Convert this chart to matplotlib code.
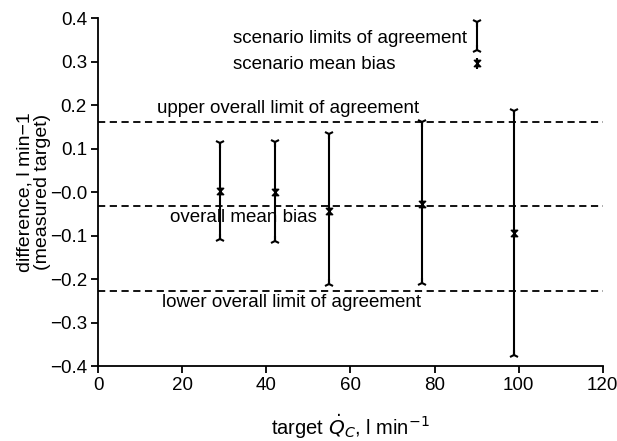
import matplotlib
matplotlib.use("Agg")
import matplotlib.pyplot as plt
from matplotlib.path import Path

plt.rcParams['font.family'] = ['Liberation Sans', 'DejaVu Sans']
plt.rcParams['font.size'] = 13.5

# scenario data
target = [29, 42, 55, 77, 99]
upper_loa = [0.113, 0.115, 0.133, 0.160, 0.187]
lower_loa = [-0.107, -0.113, -0.212, -0.208, -0.375]
mean_bias = [0.003, 0.000, -0.043, -0.027, -0.093]

# overall values
overall_upper = 0.160
overall_mean = -0.033
overall_lower = -0.228

# key (drawn in data space)
key_x = 90
key_upper = 0.390
key_lower = 0.326
key_mean = 0.296
key_mean_lo = 0.282
key_mean_hi = 0.308
key_text_x = 32
key_text_y1 = 0.354
key_text_y2 = 0.294

yticks = [-0.4, -0.3, -0.2, -0.1, 0.0, 0.1, 0.2, 0.3, 0.4]
yticklabels = ['\u22120.4', '\u22120.3', '\u22120.2', '\u22120.1', '\u22120.0',
               '0.1', '0.2', '0.3', '0.4']
xticks = [0, 20, 40, 60, 80, 100, 120]

hourglass = Path([(-1, 1), (1, 1), (-1, -1), (1, -1), (-1, 1)],
                 [Path.MOVETO, Path.LINETO, Path.LINETO, Path.LINETO, Path.CLOSEPOLY])

fig = plt.figure(figsize=(6.17, 4.41), dpi=100)
ax = fig.add_axes([0.159, 0.170, 0.818, 0.789])

dash = (0, (4, 2.5))
for yv in [overall_upper, overall_mean, overall_lower]:
    ax.axhline(yv, color='black', lw=1.3, linestyle=dash, zorder=1)

ax.vlines(target, lower_loa, upper_loa, color='black', lw=1.5, zorder=3)
ax.plot(target, upper_loa, linestyle='none', marker='1', ms=7, mew=1.5, color='black', zorder=4)
ax.plot(target, lower_loa, linestyle='none', marker='2', ms=7, mew=1.5, color='black', zorder=4)
ax.plot(target, mean_bias, linestyle='none', marker=hourglass, ms=4.5, mew=1.1, color='black', zorder=4)

# key
ax.vlines([key_x], [key_lower], [key_upper], color='black', lw=1.5)
ax.plot([key_x], [key_upper], marker='1', ms=7, mew=1.5, color='black')
ax.plot([key_x], [key_lower], marker='2', ms=7, mew=1.5, color='black')
ax.vlines([key_x], [key_mean_lo], [key_mean_hi], color='black', lw=1.5)
ax.plot([key_x], [key_mean], marker=hourglass, ms=4.5, mew=1.1, color='black')
ax.text(key_text_x, key_text_y1, 'scenario limits of agreement', ha='left', va='center')
ax.text(key_text_x, key_text_y2, 'scenario mean bias', ha='left', va='center')

ax.text(14.0, overall_upper + 0.012, 'upper overall limit of agreement', ha='left', va='bottom')
ax.text(17.2, overall_mean - 0.006, 'overall mean bias', ha='left', va='top')
ax.text(15.2, overall_lower - 0.006, 'lower overall limit of agreement', ha='left', va='top')

ax.set_xlim(0, 120)
ax.set_ylim(-0.4, 0.4)
ax.set_xticks(xticks)
ax.set_yticks(yticks)
ax.set_yticklabels(yticklabels)
for s in ['top', 'right']:
    ax.spines[s].set_visible(False)
for s in ['left', 'bottom']:
    ax.spines[s].set_linewidth(1.3)
ax.tick_params(direction='out', length=5, width=1.3, labelsize=13.5, pad=3)

ax.set_ylabel('difference, l min\u22121\n(measured target)', fontsize=14,
              linespacing=1.05)
ax.yaxis.set_label_coords(-0.093, 0.5)
ax.set_xlabel('target $\\dot{Q}_C$, l min$^{-1}$', fontsize=14.5, labelpad=13)

fig.savefig('out.png', dpi=100)
